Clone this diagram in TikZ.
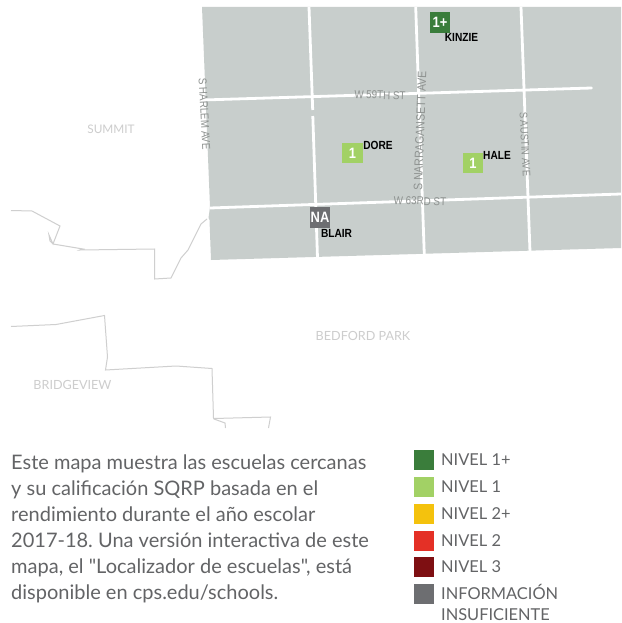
\documentclass[tikz,border=0pt]{standalone}
\usepackage{fontspec}
\setmainfont{Lato}
\newfontfamily\arialf[FakeStretch=0.86]{Liberation Sans}
\newfontfamily\parafont{Lato}
\definecolor{blockc}{HTML}{C8CECC}
\definecolor{borderc}{HTML}{CFCFCF}
\definecolor{townc}{HTML}{CDCDCD}
\definecolor{streetc}{HTML}{8E9290}
\definecolor{txtc}{HTML}{636466}
\definecolor{lvA}{HTML}{3A7D3B}
\definecolor{lvB}{HTML}{A2D165}
\definecolor{lvC}{HTML}{F4C20D}
\definecolor{lvD}{HTML}{E43026}
\definecolor{lvE}{HTML}{7E0F12}
\definecolor{lvF}{HTML}{6D6E71}
\tikzset{
 road/.style={white,line width=2.8pt},
 border/.style={borderc,line width=1pt},
 town/.style={text=townc,font=\fontsize{12.6}{14}\selectfont,inner sep=0pt},
 street/.style={text=streetc,font=\arialf\fontsize{11.4}{12}\selectfont,inner sep=0pt},
 badge/.style={minimum size=20.5pt,inner sep=0pt,text=white,font=\arialf\fontsize{15}{16}\selectfont\bfseries},
 school/.style={text=black,font=\arialf\fontsize{11.8}{13}\selectfont\bfseries,inner sep=0pt},
 swatch/.style={minimum size=20pt,inner sep=0pt},
 legtxt/.style={text=txtc,font=\fontsize{16.4}{21.5}\selectfont,anchor=west,inner sep=0pt,align=left},
}
\begin{document}
\begin{tikzpicture}[x=1pt,y=-1pt]
\useasboundingbox (0,0) rectangle (621,623);
\fill[white] (0,0) rectangle (621,623);
\fill[blockc] (202,7) -- (621,7) -- (621,248) -- (211,260) -- (209.5,220) -- (208.5,218) -- (210,207) -- cycle;
\draw[road] (309,7) -- (312.7,110);
\draw[road] (312.8,116) -- (317.5,258);
\draw[road] (415.7,7) -- (424.3,255);
\draw[road] (521,7) -- (530,252);
\draw[road,line cap=round] (203,100) -- (591.5,88);
\draw[road] (210,208) -- (621,194);
\draw[border] (11,210.5) -- (32,211) -- (60,226) -- (53,244) -- (49,235) -- (50,241) -- (53,244) -- (83,249) -- (80,250) -- (154.5,249) -- (154.5,279) -- (171,278) -- (181,258) -- (188,250) -- (201,224) -- (207,219);
\draw[border] (11,326.5) -- (56,324.5) -- (104.5,315.5) -- (107.5,357) -- (105.5,370) -- (176,366) -- (212,368.5) -- (213.5,418) -- (214,419) -- (225,423) -- (225.5,428);
\draw[border] (214,418.5) -- (270.5,417) -- (268.5,428);
\node[town,font=\fontsize{11.8}{14}\selectfont] (summit) at (111,129) {SUMMIT};
\node[town] (bedford) at (363,336) {BEDFORD PARK};
\node[town] (bridge) at (72.5,384.5) {BRIDGEVIEW};
\node[street,rotate=-87] (harlem) at (204.5,114) {S HARLEM AVE};
\node[street,rotate=-2] (s59) at (380,95) {W 59TH ST};
\node[street,rotate=88,font=\arialf\fontsize{12.2}{14}\selectfont] (narr) at (420,131) {S NARRAGANSETT AVE};
\node[street,rotate=-87,font=\arialf\fontsize{11}{12}\selectfont] (austin) at (525,144) {S AUSTIN AVE};
\node[street,rotate=-2] (s63) at (420,201) {W 63RD ST};
\node[badge,fill=lvA] (b1) at (440,22.5) {1+};
\node[badge,fill=lvB] (b2) at (352.5,153) {1};
\node[badge,fill=lvB] (b3) at (473,163) {1};
\node[badge,fill=lvF] (b4) at (320,217.5) {NA};
\node[school] (kinzie) at (461.5,37.5) {KINZIE};
\node[school] (dore) at (378,145.5) {DORE};
\node[school] (hale) at (497,155.5) {HALE};
\node[school] (blair) at (336.5,233.5) {BLAIR};
\node[text=txtc,font=\parafont\fontsize{20}{25.9}\selectfont\frenchspacing,anchor=north west,inner sep=0pt,align=left] (para) at (11,455) {Este mapa muestra las escuelas cercanas\\y su calificación SQRP basada en el\\rendimiento durante el año escolar\\2017-18. Una versión interactiva de este\\mapa, el "Localizador de escuelas", está\\disponible en cps.edu/schools.};
\node[swatch,fill=lvA] (s1) at (424,460) {};
\node[swatch,fill=lvB] (s2) at (424,487) {};
\node[swatch,fill=lvC] (s3) at (424,514) {};
\node[swatch,fill=lvD] (s4) at (424,541) {};
\node[swatch,fill=lvE] (s5) at (424,567) {};
\node[swatch,fill=lvF] (s6) at (424,594) {};
\node[legtxt] (l1) at (441,460) {NIVEL 1+};
\node[legtxt] (l2) at (441,487) {NIVEL 1};
\node[legtxt] (l3) at (441,514) {NIVEL 2+};
\node[legtxt] (l4) at (441,541) {NIVEL 2};
\node[legtxt] (l5) at (441,567) {NIVEL 3};
\node[legtxt,anchor=north west] (l6) at (441,584) {INFORMACIÓN\\INSUFICIENTE};
\end{tikzpicture}
\end{document}
